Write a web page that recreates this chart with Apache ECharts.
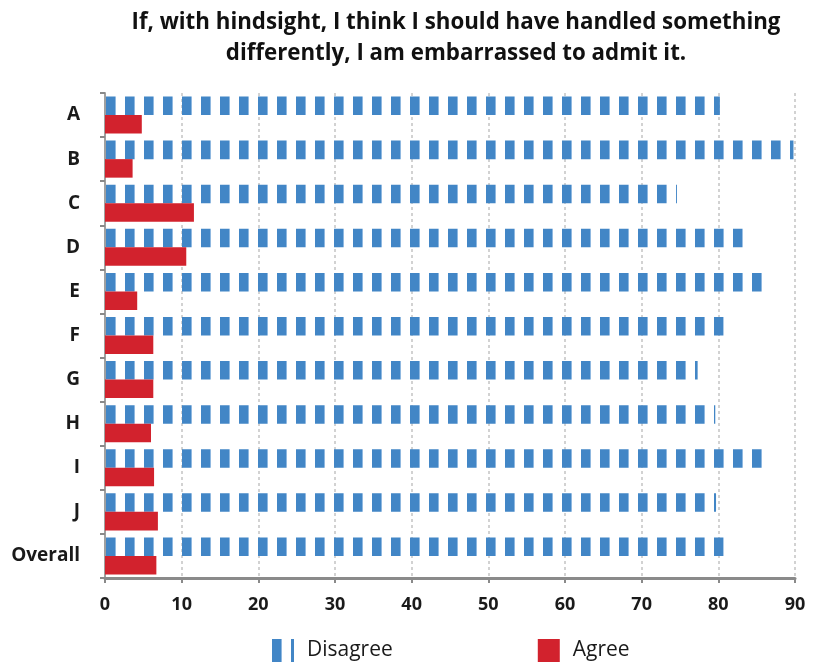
<!DOCTYPE html>
<html>
<head>
<meta charset="utf-8">
<script src="https://cdn.jsdelivr.net/npm/echarts@6/dist/echarts.min.js"></script>
<style>
html,body{margin:0;padding:0;background:#fff;}
#chart{width:814px;height:668px;}
</style>
</head>
<body>
<div id="chart"></div>
<script>
const categories = ['A','B','C','D','E','F','G','H','I','J','Overall'];
const disagree = [80.2, 89.8, 74.6, 83.2, 85.7, 80.7, 77.3, 79.6, 85.7, 79.7, 80.7];
const agree = [4.8, 3.6, 11.6, 10.6, 4.2, 6.3, 6.3, 6.0, 6.4, 6.9, 6.7];
const xTicks = [0, 10, 20, 30, 40, 50, 60, 70, 80, 90];
const seriesNames = ['Disagree', 'Agree'];
const titleText = 'If, with hindsight, I think I should have handled something\ndifferently, I am embarrassed to admit it.';

const BLUE = '#4286c6';
const RED = '#d2222d';

function stripePattern(offset) {
  const c = document.createElement('canvas');
  c.width = 19; c.height = 19;
  const ctx = c.getContext('2d');
  for (let i = 0; i < 10; i++) {
    const col = (offset + i) % 19;
    ctx.fillStyle = i < 9 ? BLUE : '#8fb8e0';
    ctx.fillRect(col, 0, 1, 19);
  }
  return { image: c, repeat: 'repeat' };
}

const chart = echarts.init(document.getElementById('chart'), null, { renderer: 'canvas' });
const font = '"Open Sans", "Noto Sans", sans-serif';

chart.setOption({
  animation: false,
  backgroundColor: '#fff',
  title: {
    text: titleText,
    left: 451,
    top: 2,
    textAlign: 'center',
    textStyle: { fontFamily: font, fontWeight: 'bold', fontSize: 22.3, lineHeight: 31, color: '#111' }
  },
  legend: {
    left: 267,
    top: 634,
    itemWidth: 22,
    itemHeight: 23,
    itemGap: 145,
    textStyle: { fontFamily: font, fontSize: 21, color: '#1a1a1a', padding: [0, 0, 0, 8] },
    data: [
      { name: seriesNames[0], icon: 'rect', itemStyle: { color: stripePattern(0) } },
      { name: seriesNames[1], icon: 'rect' }
    ]
  },
  grid: { left: 105, right: 19, top: 93, bottom: 90, containLabel: false },
  xAxis: {
    type: 'value',
    min: xTicks[0],
    max: xTicks[xTicks.length - 1],
    interval: 10,
    axisLine: { show: true, lineStyle: { color: '#8a8a8a', width: 3 } },
    axisTick: { show: true, length: 5, lineStyle: { color: '#8a8a8a', width: 2 } },
    axisLabel: { margin: 18, fontFamily: font, fontWeight: 'bold', fontSize: 18, color: '#1a1a1a' },
    splitLine: { show: true, lineStyle: { color: '#c4c4c4', width: 1.5, type: [3, 3] } }
  },
  yAxis: {
    type: 'category',
    data: categories,
    inverse: true,
    axisLine: { show: true, lineStyle: { color: '#a0a0a0', width: 2 } },
    axisTick: { show: true, length: 5, lineStyle: { color: '#8a8a8a', width: 2 } },
    axisLabel: { margin: 25, fontFamily: font, fontWeight: 'bold', fontSize: 19, color: '#1a1a1a' },
    splitLine: { show: false }
  },
  series: [
    {
      name: seriesNames[0],
      type: 'bar',
      data: disagree,
      barGap: '0%',
      barCategoryGap: '16%',
      itemStyle: { color: stripePattern(106 % 19) }
    },
    {
      name: seriesNames[1],
      type: 'bar',
      data: agree,
      barGap: '0%',
      barCategoryGap: '16%',
      itemStyle: { color: RED }
    }
  ]
});
</script>
</body>
</html>
